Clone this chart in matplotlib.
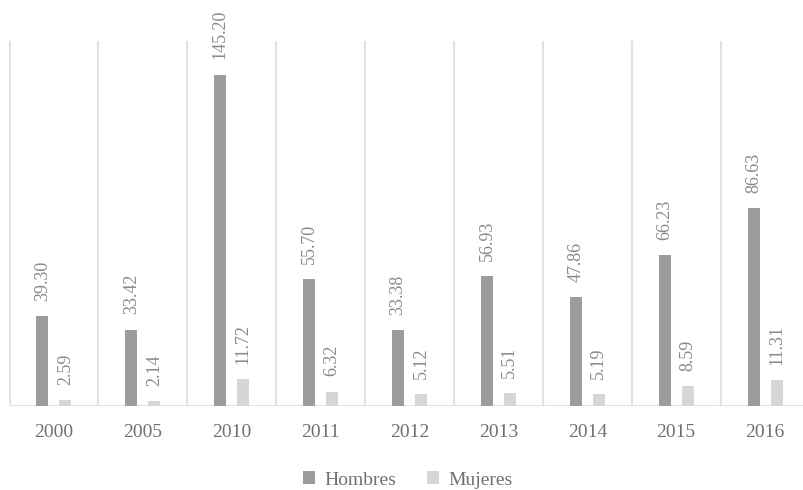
import matplotlib
matplotlib.use("Agg")
import matplotlib.pyplot as plt
import numpy as np

years = ["2000", "2005", "2010", "2011", "2012", "2013", "2014", "2015", "2016"]
hombres = [39.30, 33.42, 145.20, 55.70, 33.38, 56.93, 47.86, 66.23, 86.63]
mujeres = [2.59, 2.14, 11.72, 6.32, 5.12, 5.51, 5.19, 8.59, 11.31]

plt.rcParams['font.family'] = ['Liberation Serif', 'DejaVu Serif']

c_h = "#9a9c9d"
c_m = "#d5d6d5"
txt = "#8a8a8a"
grid = "#e2e2e2"

fig = plt.figure(figsize=(8.04, 4.90), dpi=100)
ax = fig.add_axes([9.5/804, 84/490, 800/804, 365/490])

x = np.arange(len(years))
w = 0.135
off = 0.129
b1 = ax.bar(x - off, hombres, w, color=c_h, label="Hombres", zorder=3)
b2 = ax.bar(x + off, mujeres, w, color=c_m, label="Mujeres", zorder=3)

for bars, vals in ((b1, hombres), (b2, mujeres)):
    for r, v in zip(bars, vals):
        ax.annotate(f"{v:.2f}", (r.get_x() + r.get_width()/2, v),
                    xytext=(0, 11), textcoords="offset points",
                    rotation=90, ha="center", va="bottom",
                    fontsize=13, color=txt)

for k in range(len(years) + 1):
    ax.axvline(k - 0.5, color=grid, lw=1.5, zorder=1)
ax.axhline(0, color=grid, lw=2.2, zorder=2)

ax.set_xlim(-0.5, len(years) - 0.5)
ax.set_ylim(0, 160)
ax.set_xticks(x)
ax.set_xticklabels(years, fontsize=14, color="#707070")
ax.tick_params(axis="x", length=0, pad=13)
ax.set_yticks([])
for s in ax.spines.values():
    s.set_visible(False)

fig.legend(handles=[b1, b2], labels=["Hombres", "Mujeres"], loc="center",
           bbox_to_anchor=(408/804, 10/490), ncol=2, frameon=False,
           handlelength=0.6, handleheight=0.6, handletextpad=0.5,
           columnspacing=1.6, fontsize=14, labelcolor="#707070")

fig.savefig("out.png", dpi=100)
